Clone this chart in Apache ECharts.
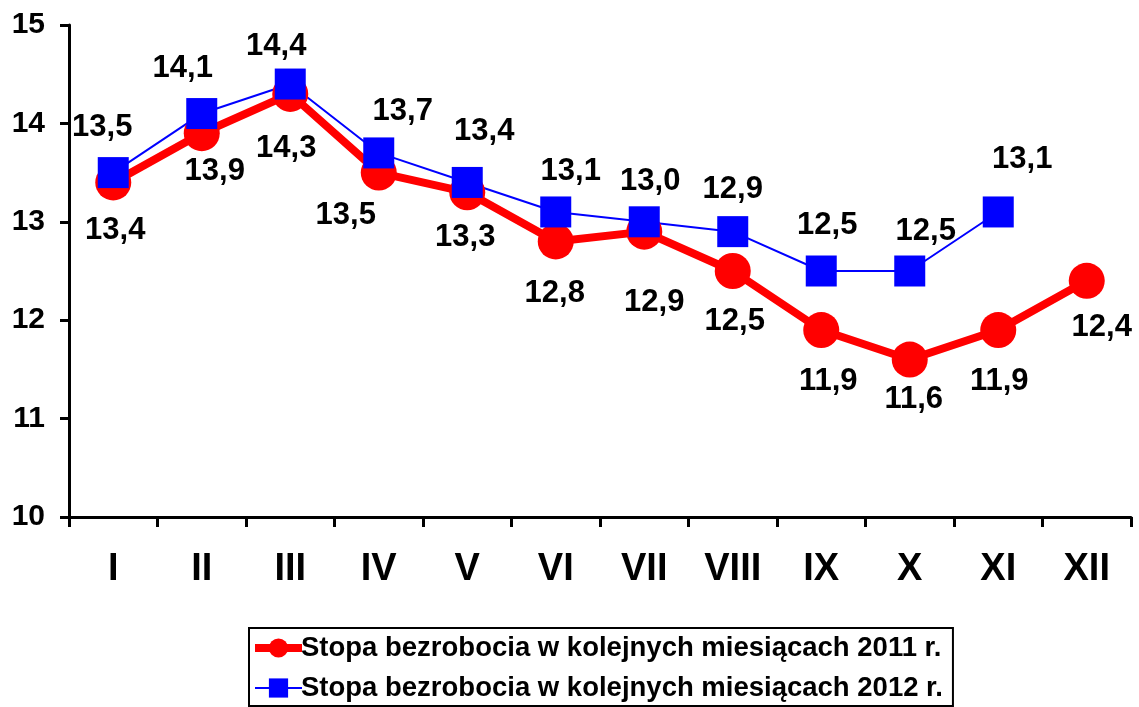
<!DOCTYPE html>
<html><head><meta charset="utf-8">
<script src="https://cdn.jsdelivr.net/npm/echarts@6/dist/echarts.min.js"></script>
<style>html,body{margin:0;padding:0;background:#fff}#c{width:1139px;height:707px}</style>
</head><body><div id="c"></div>
<script>
const categories = ['I','II','III','IV','V','VI','VII','VIII','IX','X','XI','XII'];
const values2011 = [13.4,13.9,14.3,13.5,13.3,12.8,12.9,12.5,11.9,11.6,11.9,12.4];
const values2012 = [13.5,14.1,14.4,13.7,13.4,13.1,13.0,12.9,12.5,12.5,13.1,null];
const seriesNames = ['Stopa bezrobocia w kolejnych miesiącach 2011 r.','Stopa bezrobocia w kolejnych miesiącach 2012 r.'];
// label offsets (styling)
const off2011 = [[2,48],[13,38],[-4,55],[-33,43],[-2,45],[-1,52],[10,71],[2,50],[7,51],[4,40],[1,51],[15,47]];
const off2012 = [[-11,-45],[-19,-45],[-14,-38],[24,-41],[17,-51],[15,-41],[6,-40],[0,-42],[6,-46],[16,-40],[24,-53],[0,0]];
const FONT = '"Liberation Sans", Arial, sans-serif';
const fmt = v => String(v.toFixed(1)).replace('.', ',');
function mk(vals, offs){
  return vals.map((v,i)=> v==null ? null : ({value:v, label:{offset:offs[i]}}));
}
const chart = echarts.init(document.getElementById('c'));
chart.setOption({
  animation:false,
  grid:{left:69,right:8,top:25,bottom:190,containLabel:false},
  xAxis:{type:'category',data:categories,boundaryGap:true,
    axisLine:{lineStyle:{color:'#000',width:3}},
    axisTick:{show:true,length:10,lineStyle:{color:'#000',width:3},alignWithLabel:false},
    axisLabel:{color:'#000',fontFamily:FONT,fontWeight:'bold',fontSize:38,margin:34}},
  yAxis:{type:'value',min:10,max:15,interval:1,
    splitLine:{show:false},
    axisLine:{show:true,lineStyle:{color:'#000',width:3}},
    axisTick:{show:true,length:9,lineStyle:{color:'#000',width:3}},
    axisLabel:{color:'#000',fontFamily:FONT,fontWeight:'bold',fontSize:30,margin:24}},
  legend:{orient:'vertical',left:249,top:628,
    borderColor:'#000',borderWidth:2,padding:[6,10,4,2],itemGap:12,
    itemWidth:47,itemHeight:24,
    textStyle:{color:'#000',fontFamily:FONT,fontWeight:'bold',fontSize:27.5,padding:[0,0,0,-6]},
    data:[{name:seriesNames[0],lineStyle:{width:8}},{name:seriesNames[1],lineStyle:{width:2}}]},
  series:[
    {name:seriesNames[0],type:'line',data:mk(values2011,off2011),
      symbol:'circle',symbolSize:36,
      itemStyle:{color:'#ff0000'},lineStyle:{color:'#ff0000',width:8},
      label:{show:true,position:'inside',color:'#000',fontFamily:FONT,fontWeight:'bold',fontSize:31,
        formatter:p=>fmt(p.value)}},
    {name:seriesNames[1],type:'line',data:mk(values2012,off2012),
      symbol:'rect',symbolSize:31,
      itemStyle:{color:'#0000ff'},lineStyle:{color:'#0000ff',width:2},
      label:{show:true,position:'inside',color:'#000',fontFamily:FONT,fontWeight:'bold',fontSize:31,
        formatter:p=>fmt(p.value)}}
  ]
});
</script></body></html>
